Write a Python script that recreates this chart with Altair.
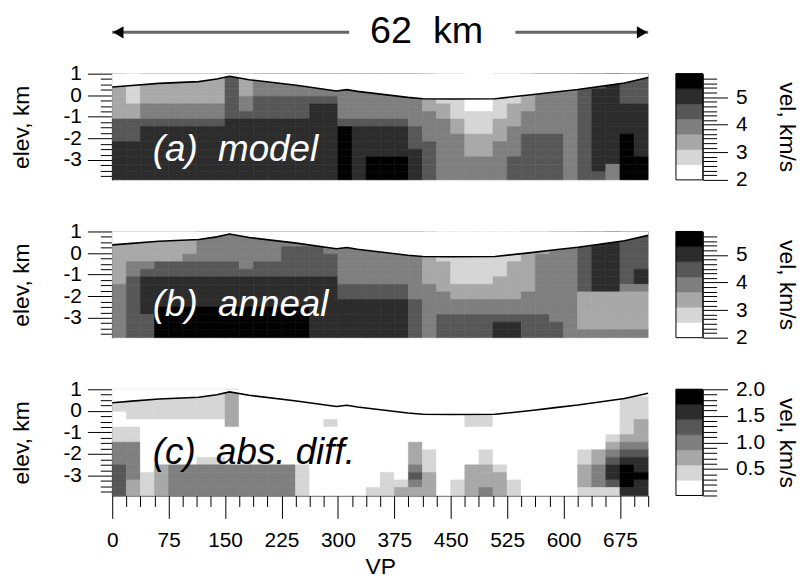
import altair as alt
import pandas as pd

# ---------------- data ----------------
COL_W = 18.75                      # VP per model column
X_MAX = 712.5
ROW_EDGES = [1.0, 0.65, 0.3, -0.05, -0.4, -0.75, -1.1, -1.45, -1.8,
             -2.15, -2.5, -2.85, -3.2, -3.55, -3.92]   # elevation km (row edges)

TOPO_VP = [0, 26, 62, 115, 139, 156, 182, 245, 298, 312, 326, 393, 413,
           451, 509, 557, 589, 619, 681, 712.5]
TOPO_ELEV = [0.38, 0.45, 0.55, 0.63, 0.75, 0.88, 0.72, 0.46, 0.2, 0.26,
             0.18, -0.1, -0.16, -0.17, -0.16, 0.02, 0.15, 0.27, 0.57, 0.82]

# gray class (0 = white ... 6 = black) per column, top row first
MODEL = [
    "22222244455555", "11112244455555", "22223345555555", "22223345555555",
    "22223345555555", "22223345555555", "22223345555555", "22223345555555",
    "44444455555555", "22233455555555", "33344455555555", "33344455555555",
    "33344455555555", "33344455555555", "33345555555555", "33345555555555",
    "33333346666666", "33333345555555", "33333345555666", "33333345555666",
    "33333345555666", "33333334445555", "22222333344444", "11112233333333",
    "11111122333333", "00000111222333", "00000111222333", "11111122233333",
    "11112223333444", "22222333444444", "33333333444444", "33333333444444",
    "33333333333333", "44444444444444", "44555555555554", "55555555555533",
    "44445555666666", "44445555555666",
]
ANNEAL = [
    "22222223333333", "22223344444444", "22223455555444", "22224455556666",
    "22224455556666", "22234455556666", "33334455556666", "33334455556666",
    "33334455556666", "33333455556666", "33334455556666", "33334455556666",
    "33444455556666", "33444455556666", "33444455555555", "33344455555555",
    "33333334455555", "33333334455555", "33333334455555", "33333334455555",
    "33333334455555", "33333333344444", "22222223333333", "11112222333444",
    "11111112233444", "11111112233444", "11111112233444", "11111122233455",
    "11112222233455", "22222222333444", "22233333333444", "33333333333344",
    "33333333333333", "44444444222223", "45555555222223", "55555555222223",
    "44444443222223", "44444553222223",
]
DIFF = [
    "11100113334444", "11110113333322", "11110000000111", "11110000002222",
    "11110000003333", "11110000003333", "11110000013333", "11110000013333",
    "22222000003333", "00000000003333", "00000000003333", "00000000003333",
    "00000000003333", "00000000001111", "00000000000000", "00001000000000",
    "00000000000000", "00000000000000", "00000000000001", "00000000000111",
    "00000000000012", "00000002223432", "00000000111222", "00000000000000",
    "00000000000011", "00011000002222", "00011000112223", "00000000001222",
    "00000000000011", "00000000000000", "00000000000000", "00000000000000",
    "00000000000000", "00000000112221", "00000000223331", "00000012345541",
    "01111123456665", "01112223455655",
]

VEL_RANGE = [2.0, 5.85]
DIFF_RANGE = [0.0, 2.0]
GRAYS = ["#ffffff", "#d6d6d6", "#a8a8a8", "#7f7f7f", "#575757", "#2c2c2c", "#000000"]

X_TICKS = [i * COL_W for i in range(39)]
Y_TICKS = [-3.75 + 0.25 * i for i in range(20)]
VEL_TICKS = [2 + k / 6 for k in range(23)]
DIFF_TICKS = [0.1 * k for k in range(21)]

FONT = "Liberation Sans"
PW, PH = 540, 107
CBW = 27
TOPH = 9

XS = alt.Scale(domain=[0, X_MAX], nice=False, zero=False)
YS = alt.Scale(domain=[ROW_EDGES[-1], ROW_EDGES[0]], nice=False, zero=False)

MAJ_Y = "abs(datum.value - round(datum.value)) < 0.001"
MAJ_X = "abs(datum.value / 75 - round(datum.value / 75)) < 0.001"

common_axis = dict(grid=False, domainColor="black", tickColor="black",
                   labelColor="black", labelFont=FONT, labelFontSize=21,
                   labelFlush=False, labelOverlap=False, labelBound=False,
                   titleFont=FONT, titleFontSize=23, titleFontWeight="normal",
                   titleColor="black")

YA = alt.Axis(values=Y_TICKS, title="elev, km",
              labelExpr=f"{MAJ_Y} ? '' + datum.value : ''",
              tickSize={"condition": {"test": MAJ_Y, "value": 25}, "value": 12},
              labelPadding=6, titleAngle=-90, titleX=-91, titleY=PH / 2,
              titleAlign="center", titleBaseline="middle", **common_axis)
XA = alt.Axis(values=X_TICKS, title="VP",
              labelExpr=f"{MAJ_X} && datum.value < 700 ? '' + datum.value : ''",
              tickSize={"condition": {"test": MAJ_X, "value": 23}, "value": 11},
              labelPadding=11, titleX=PW / 2, titleY=72, titleAlign="center",
              titleBaseline="middle", **common_axis)


def cells(cols, lo, hi, field):
    w = (hi - lo) / 7
    recs = []
    for i, s in enumerate(cols):
        for j, ch in enumerate(s):
            recs.append({"x0": i * COL_W, "x1": (i + 1) * COL_W,
                         "y0": ROW_EDGES[j + 1], "y1": ROW_EDGES[j],
                         field: lo + (int(ch) + 0.5) * w})
    return pd.DataFrame(recs)


def panel(cols, rng, field, label, label_color, label_y, show_x):
    df = cells(cols, rng[0], rng[1], field)
    cs = alt.Scale(type="quantize", domain=rng, range=GRAYS)
    xa = XA if show_x else None
    heat = alt.Chart(df).mark_rect(strokeWidth=0.6).encode(
        x=alt.X("x0:Q", scale=XS, axis=xa), x2="x1",
        y=alt.Y("y0:Q", scale=YS, axis=YA), y2="y1",
        color=alt.Color(f"{field}:Q", scale=cs, legend=None),
        stroke=alt.Stroke(f"{field}:Q", scale=cs, legend=None))
    topo = pd.DataFrame({"x0": TOPO_VP, "y0": TOPO_ELEV})
    mask = alt.Chart(topo).mark_area(color="white", opacity=1).encode(
        x=alt.X("x0:Q", scale=XS, axis=xa),
        y=alt.Y("y0:Q", scale=YS, axis=YA), y2=alt.datum(ROW_EDGES[0]))
    line = alt.Chart(topo).mark_line(color="black", strokeWidth=1.6).encode(
        x=alt.X("x0:Q", scale=XS, axis=xa),
        y=alt.Y("y0:Q", scale=YS, axis=YA))
    lab = pd.DataFrame({"x0": [54], "y0": [label_y], "t": [label]})
    txt = alt.Chart(lab).mark_text(align="left", baseline="middle",
                                   fontStyle="italic", font=FONT,
                                   fontSize=37, color=label_color).encode(
        x=alt.X("x0:Q", scale=XS, axis=xa),
        y=alt.Y("y0:Q", scale=YS, axis=YA), text="t:N")
    return alt.layer(heat, mask, line, txt).properties(width=PW, height=PH)


def colorbar(rng, field, ticks, major, fmt):
    lo, hi = rng
    w = (hi - lo) / 7
    df = pd.DataFrame({"a": [lo + k * w for k in range(7)],
                       "b": [lo + (k + 1) * w for k in range(7)],
                       field: [lo + (k + 0.5) * w for k in range(7)]})
    cs = alt.Scale(type="quantize", domain=rng, range=GRAYS)
    ys = alt.Scale(domain=rng, nice=False, zero=False)
    ax = alt.Axis(orient="right", values=ticks, title="vel, km/s",
                  labelExpr=f"{major} ? {fmt} : ''",
                  tickSize={"condition": {"test": major, "value": 25}, "value": 14},
                  labelPadding=8, titleAngle=90, titleX=84, titleY=PH / 2,
                  titleAlign="center", titleBaseline="middle", **common_axis)
    bars = alt.Chart(df).mark_rect(strokeWidth=0.5).encode(
        x=alt.value(0), x2=alt.value(CBW),
        y=alt.Y("a:Q", scale=ys, axis=ax), y2="b",
        color=alt.Color(f"{field}:Q", scale=cs, legend=None),
        stroke=alt.Stroke(f"{field}:Q", scale=cs, legend=None))
    frame = alt.Chart(pd.DataFrame({"a": [lo], "b": [hi]})).mark_rect(
        fillOpacity=0, stroke="black", strokeWidth=1).encode(
        x=alt.value(0), x2=alt.value(CBW),
        y=alt.Y("a:Q", scale=ys, axis=ax), y2="b")
    return alt.layer(bars, frame).properties(width=CBW, height=PH)


VEL_MAJOR = "abs(datum.value - round(datum.value)) < 0.001"
DIFF_MAJOR = "abs(datum.value * 2 - round(datum.value * 2)) < 0.001 && datum.value > 0.1"

# ------------- distance arrow -------------
ARROW_SEG_START = [0, 536]
ARROW_SEG_END = [315, 712.5]
HEAD_X = [8, 704.5]
HEAD_SHAPE = ["triangle-left", "triangle-right"]
ARROW_LABEL = "62\u00a0\u00a0km"
ARROW_LABEL_X = 418
ARROW_Y = -1.15   # below the thin top cell (drawn unclipped)

AYS = alt.Scale(domain=[0, 1])
seg = alt.Chart(pd.DataFrame({"x": ARROW_SEG_START, "x2": ARROW_SEG_END,
                              "y": [ARROW_Y, ARROW_Y]})).mark_rule(
    color="#666666", strokeWidth=3).encode(
    x=alt.X("x:Q", scale=XS, axis=None), x2="x2",
    y=alt.Y("y:Q", scale=AYS, axis=None))
heads = alt.Chart(pd.DataFrame({"x": HEAD_X, "y": [ARROW_Y, ARROW_Y],
                                "s": HEAD_SHAPE})).mark_point(
    filled=True, color="black", size=150, opacity=1).encode(
    x=alt.X("x:Q", scale=XS, axis=None),
    y=alt.Y("y:Q", scale=AYS, axis=None),
    shape=alt.Shape("s:N", scale=alt.Scale(domain=HEAD_SHAPE, range=HEAD_SHAPE),
                    legend=None))
lbl = alt.Chart(pd.DataFrame({"x": [ARROW_LABEL_X], "y": [ARROW_Y],
                              "t": [ARROW_LABEL]})).mark_text(
    font=FONT, fontSize=38, color="black", baseline="middle").encode(
    x=alt.X("x:Q", scale=XS, axis=None),
    y=alt.Y("y:Q", scale=AYS, axis=None), text="t:N")
arrow = alt.layer(seg, heads, lbl).properties(width=PW, height=TOPH)

blank = alt.Chart(pd.DataFrame({"x": [0]})).mark_point(opacity=0).encode(
    x=alt.value(0), y=alt.value(0)).properties(width=CBW, height=TOPH)

cells_list = [
    arrow, blank,
    panel(MODEL, VEL_RANGE, "vel", "(a)\u00a0\u00a0model", "white", -2.55, False),
    colorbar(VEL_RANGE, "vel", VEL_TICKS, VEL_MAJOR, "'' + round(datum.value)"),
    panel(ANNEAL, VEL_RANGE, "vel", "(b)\u00a0\u00a0anneal", "white", -2.4, False),
    colorbar(VEL_RANGE, "vel", VEL_TICKS, VEL_MAJOR, "'' + round(datum.value)"),
    panel(DIFF, DIFF_RANGE, "dv", "(c)\u00a0\u00a0abs.\u00a0diff.", "black", -1.95, True),
    colorbar(DIFF_RANGE, "dv", DIFF_TICKS, DIFF_MAJOR, "format(datum.value, '.1f')"),
]

chart = alt.concat(*cells_list, columns=2, bounds="flush",
                   spacing=alt.RowColnumber(row=52, column=28)).resolve_scale(
    color="independent", stroke="independent", shape="independent").properties(
    padding={"left": 3, "top": 0, "right": 6, "bottom": 0}).configure_view(stroke=None)

chart.save("out.html", embed_options={"renderer": "svg", "actions": False})
